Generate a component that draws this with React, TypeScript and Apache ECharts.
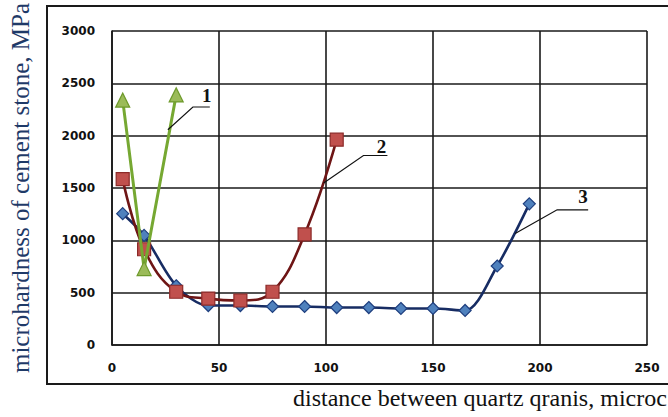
import React, { useEffect, useRef } from "react";
import * as echarts from "echarts";

// X values (microns) and microhardness values (MPa) per curve
const greenX = [5, 15, 30];
const greenValues = [2340, 730, 2390];

const redX = [5, 15, 30, 45, 60, 75, 90, 105];
const redValues = [1585, 915, 509, 443, 425, 509, 1057, 1962];

const blueX = [5, 15, 30, 45, 60, 75, 90, 105, 120, 135, 150, 165, 180, 195];
const blueValues = [1255, 1047, 566, 377, 377, 368, 368, 358, 358, 349, 349, 330, 755, 1349];

const curveLabels = ["1", "2", "3"];
// leader lines in data coordinates: start, elbow, end, label position
const leaderLines = [
  { pts: [[26.1, 2057], [37.8, 2274], [45.7, 2274]], label: [44.3, 2387] },
  { pts: [[98.9, 1547], [117.5, 1811], [128.7, 1811]], label: [125.9, 1896] },
  { pts: [[188.4, 1066], [208, 1292], [222.5, 1292]], label: [220.1, 1415] },
];

const yAxisTitle = "microhardness of cement stone, MPa";
const xAxisTitle = "distance between quartz qranis, microc";

const zip = (xs: number[], ys: number[]) => xs.map((x, i) => [x, ys[i]]);

export default function App() {
  const ref = useRef<HTMLDivElement>(null);
  useEffect(() => {
    if (!ref.current) return;
    const chart = echarts.init(ref.current, undefined, { renderer: "svg" });
    const axisLabel = {
      fontFamily: "DejaVu Sans",
      fontWeight: "bold" as const,
      fontSize: 12,
      color: "#111",
      formatter: (v: number) => String(v),
    };
    const lineStyleGrid = { color: "#1a1a1a", width: 1.6 };
    chart.setOption({
      animation: false,
      backgroundColor: "#fff",
      grid: { left: 111, top: 27, right: 21, bottom: 72, containLabel: false },
      xAxis: {
        type: "value",
        min: 0,
        max: 250,
        interval: 50,
        axisLine: { show: true, lineStyle: lineStyleGrid },
        axisTick: { show: false },
        splitLine: { show: true, lineStyle: lineStyleGrid },
        axisLabel: { ...axisLabel, margin: 17 },
      },
      yAxis: {
        type: "value",
        min: 0,
        max: 3000,
        interval: 500,
        name: yAxisTitle,
        nameLocation: "middle",
        nameRotate: 90,
        nameGap: 79,
        nameTextStyle: {
          fontFamily: "Liberation Serif",
          fontSize: 25,
          color: "#1f3a68",
        },
        axisLine: { show: true, lineStyle: lineStyleGrid },
        axisTick: { show: false },
        splitLine: { show: true, lineStyle: lineStyleGrid },
        axisLabel: { ...axisLabel, margin: 17 },
      },
      series: [
        {
          type: "line",
          data: zip(blueX, blueValues),
          smooth: 0.3,
          symbol: "diamond",
          symbolSize: 12,
          lineStyle: { color: "#172c63", width: 2.6 },
          itemStyle: { color: "#4f81bd", borderColor: "#1f3f7f", borderWidth: 1.2 },
          z: 3,
        },
        {
          type: "line",
          data: zip(redX, redValues),
          smooth: 0.4,
          symbol: "rect",
          symbolSize: 13,
          lineStyle: { color: "#6e1515", width: 2.6 },
          itemStyle: { color: "#c0504d", borderColor: "#8c2a28", borderWidth: 1.2 },
          z: 4,
        },
        {
          type: "line",
          data: zip(greenX, greenValues),
          smooth: false,
          symbol: "triangle",
          symbolSize: 14,
          lineStyle: { color: "#76a832", width: 3 },
          itemStyle: { color: "#9bbb59", borderColor: "#6e9a2c", borderWidth: 1.2 },
          z: 5,
        },
      ],
    });

    const px = (p: number[]) => chart.convertToPixel({ gridIndex: 0 }, p) as number[];
    const graphics: any[] = [
      {
        type: "rect",
        shape: { x: 47, y: 6, width: 700, height: 378 },
        style: { fill: "none", stroke: "#1a1a1a", lineWidth: 2 },
        silent: true,
        z: -1,
      },
      {
        type: "text",
        left: 293,
        top: 386,
        style: {
          text: xAxisTitle,
          fontFamily: "Liberation Serif",
          fontSize: 24,
          fill: "#111",
        },
      },
    ];
    leaderLines.forEach((l, i) => {
      graphics.push({
        type: "polyline",
        shape: { points: l.pts.map(px) },
        style: { stroke: "#111", lineWidth: 1.2, fill: "none" },
        z: 10,
      });
      const lp = px(l.label);
      graphics.push({
        type: "text",
        x: lp[0],
        y: lp[1],
        style: {
          text: curveLabels[i],
          fontFamily: "Liberation Serif",
          fontWeight: "bold",
          fontSize: 19,
          fill: "#111",
          align: "center",
          verticalAlign: "middle",
        },
        z: 10,
      });
    });
    chart.setOption({ graphic: graphics });

    return () => chart.dispose();
  }, []);
  return <div ref={ref} style={{ width: 668, height: 417, position: "absolute", left: 0, top: 0 }} />;
}
